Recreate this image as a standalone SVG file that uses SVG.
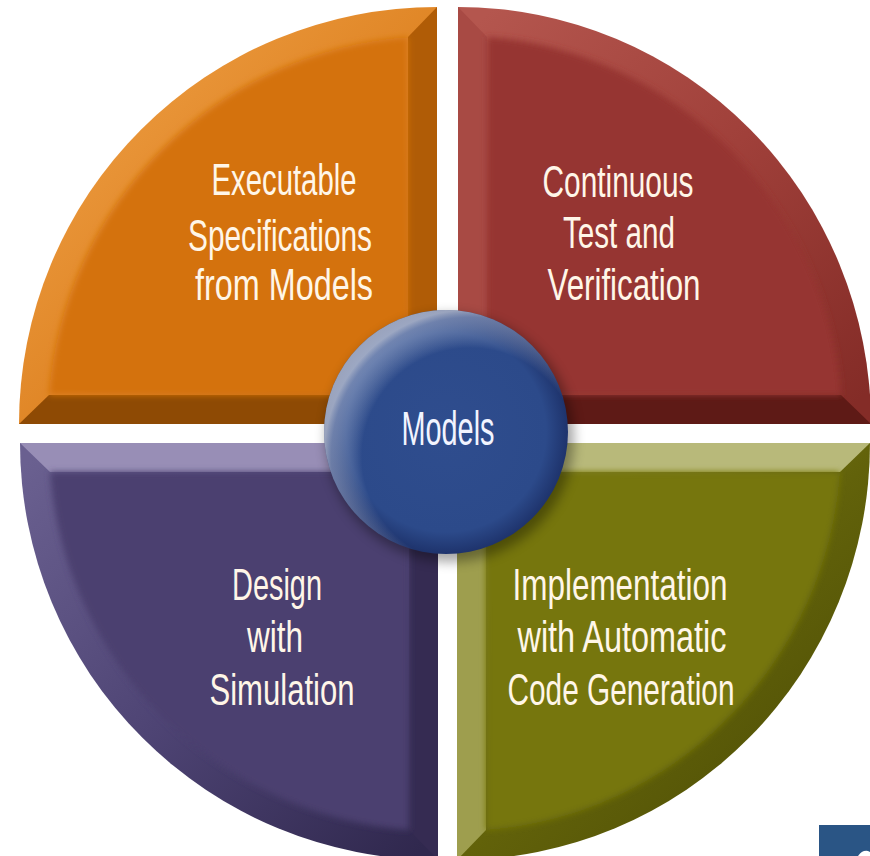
<svg xmlns="http://www.w3.org/2000/svg" width="870" height="856" viewBox="0 0 870 856">
<defs>
<style>
.lbl{font-family:"Liberation Sans Narrow","Liberation Sans",Arial,sans-serif;font-size:45px;fill:#FFF6E8;text-anchor:middle}
.mdl{font-family:"Liberation Sans Narrow","Liberation Sans",Arial,sans-serif;font-size:48px;fill:#F2F4FF;text-anchor:middle}
</style>
<filter id="soft" x="-5%" y="-5%" width="110%" height="110%"><feGaussianBlur stdDeviation="3"/></filter>
<filter id="shadow" x="-20%" y="-20%" width="140%" height="140%"><feGaussianBlur stdDeviation="6"/></filter>
<linearGradient id="gOrange" gradientUnits="userSpaceOnUse" x1="60" y1="60" x2="400" y2="400"><stop offset="0" stop-color="#EE9E44"/><stop offset="0.5" stop-color="#E08626"/><stop offset="1" stop-color="#C46A0A"/></linearGradient>
<linearGradient id="gRed" gradientUnits="userSpaceOnUse" x1="480" y1="20" x2="860" y2="400"><stop offset="0" stop-color="#B4564E"/><stop offset="0.5" stop-color="#A0403A"/><stop offset="1" stop-color="#842C27"/></linearGradient>
<linearGradient id="gPurple" gradientUnits="userSpaceOnUse" x1="30" y1="460" x2="420" y2="850"><stop offset="0" stop-color="#6A6090"/><stop offset="0.5" stop-color="#4E4474"/><stop offset="1" stop-color="#30284E"/></linearGradient>
<linearGradient id="gGreen" gradientUnits="userSpaceOnUse" x1="480" y1="460" x2="860" y2="850"><stop offset="0" stop-color="#8A8A2A"/><stop offset="0.5" stop-color="#62620A"/><stop offset="1" stop-color="#4A4A04"/></linearGradient>
<radialGradient id="gSphere" cx="0.5" cy="0.5" r="0.5"><stop offset="0" stop-color="#2F4D8E"/><stop offset="0.82" stop-color="#2C4A8A"/><stop offset="1" stop-color="#1E336C"/></radialGradient>
<radialGradient id="gShine" cx="0.6" cy="0.6" r="0.6"><stop offset="0.74" stop-color="#FFFFFF" stop-opacity="0"/><stop offset="0.95" stop-color="#C8D2E8" stop-opacity="0.45"/><stop offset="1" stop-color="#FFFFFF" stop-opacity="0.55"/></radialGradient>
</defs>
<rect width="870" height="856" fill="#FFFFFF"/>

<g id="quad-orange">
<path d="M437,424 L19,424 A418,417 0 0 1 437,7 Z" fill="url(#gOrange)"/>
<path d="M437,424 L19,424 L49,395 L408,395 Z" fill="#8E4A04"/>
<path d="M437,424 L408,395 L408,37 L437,7 Z" fill="#B05C06"/>
<path d="M408,395 L49,395 A389,388 0 0 1 408,37 Z" fill="#D4720C" filter="url(#soft)"/>
<text class="lbl" x="284" y="195" textLength="145" lengthAdjust="spacingAndGlyphs">Executable</text>
<text class="lbl" x="280" y="251" textLength="184" lengthAdjust="spacingAndGlyphs">Specifications</text>
<text class="lbl" x="284" y="300" textLength="178" lengthAdjust="spacingAndGlyphs">from Models</text>
</g>

<g id="quad-red">
<path d="M458,424 L458,7 A413,417 0 0 1 871,424 Z" fill="url(#gRed)"/>
<path d="M458,424 L871,424 L841,395 L487,395 Z" fill="#5E1A16"/>
<path d="M458,424 L487,395 L487,37 L458,7 Z" fill="#A84A44"/>
<path d="M487,395 L487,37 A384,388 0 0 1 841,395 Z" fill="#963530" filter="url(#soft)"/>
<text class="lbl" x="618" y="197" textLength="151" lengthAdjust="spacingAndGlyphs">Continuous</text>
<text class="lbl" x="619" y="248" textLength="112" lengthAdjust="spacingAndGlyphs">Test and</text>
<text class="lbl" x="624" y="300" textLength="153" lengthAdjust="spacingAndGlyphs">Verification</text>
</g>

<g id="quad-purple">
<path d="M438,443 L438,860 A418,417 0 0 1 20,443 Z" fill="url(#gPurple)"/>
<path d="M438,443 L20,443 L50,472 L409,472 Z" fill="#988EB6"/>
<path d="M438,443 L409,472 L409,830 L438,860 Z" fill="#352B52"/>
<path d="M409,472 L409,830 A389,388 0 0 1 50,472 Z" fill="#4B4070" filter="url(#soft)"/>
<text class="lbl" x="277" y="600" textLength="90" lengthAdjust="spacingAndGlyphs">Design</text>
<text class="lbl" x="275" y="652" textLength="56" lengthAdjust="spacingAndGlyphs">with</text>
<text class="lbl" x="282" y="705" textLength="145" lengthAdjust="spacingAndGlyphs">Simulation</text>
</g>

<g id="quad-green">
<path d="M457,443 L870,443 A413,417 0 0 1 457,860 Z" fill="url(#gGreen)"/>
<path d="M457,443 L870,443 L840,472 L486,472 Z" fill="#B8B97A"/>
<path d="M457,443 L486,472 L486,830 L457,860 Z" fill="#9E9E4E"/>
<path d="M486,472 L840,472 A384,388 0 0 1 486,830 Z" fill="#76760E" filter="url(#soft)"/>
<text class="lbl" x="620" y="600" textLength="215" lengthAdjust="spacingAndGlyphs">Implementation</text>
<text class="lbl" x="622" y="652" textLength="209" lengthAdjust="spacingAndGlyphs">with Automatic</text>
<text class="lbl" x="621" y="705" textLength="227" lengthAdjust="spacingAndGlyphs">Code Generation</text>
</g>

<g id="models">
<circle cx="450" cy="438" r="124" fill="#000000" opacity="0.35" filter="url(#shadow)"/>
<circle cx="446" cy="432" r="122" fill="url(#gSphere)"/>
<circle cx="446" cy="432" r="122" fill="url(#gShine)"/>
<text class="mdl" x="448" y="445" textLength="93" lengthAdjust="spacingAndGlyphs">Models</text>
</g>

<g id="corner-badge">
<rect x="819" y="825" width="51" height="31" fill="#2A5585"/>
<path d="M858,856 Q862,850 868,851 L870,852 L870,856 Z" fill="#FFFFFF"/>
</g>
</svg>
